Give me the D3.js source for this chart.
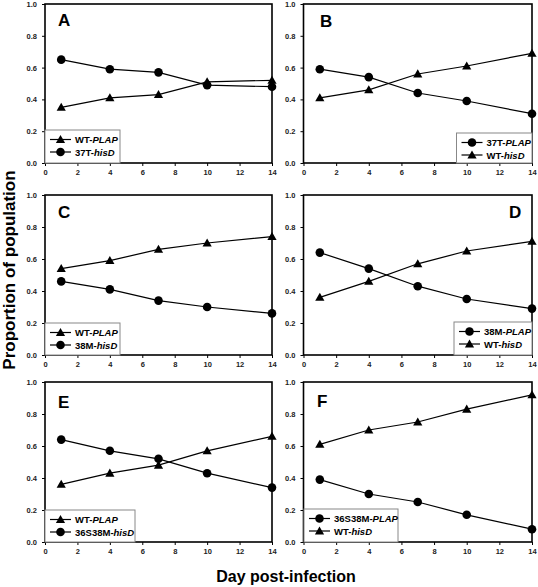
<!DOCTYPE html>
<html><head><meta charset="utf-8">
<script src="https://cdn.jsdelivr.net/npm/d3@7"></script>
<style>body{margin:0;background:#fff}svg{display:block}</style>
</head><body>
<script>
const days = [1, 4, 7, 10, 14];
const xTicks = [0, 2, 4, 6, 8, 10, 12, 14];
const yTicks = [0, 0.2, 0.4, 0.6, 0.8, 1.0];
const panelLetters = ["A", "B", "C", "D", "E", "F"];

const aWT_PLAP = [0.35, 0.41, 0.43, 0.51, 0.52];
const a37T_hisD = [0.65, 0.59, 0.57, 0.49, 0.48];
const b37T_PLAP = [0.59, 0.54, 0.44, 0.39, 0.31];
const bWT_hisD = [0.41, 0.46, 0.56, 0.61, 0.69];
const cWT_PLAP = [0.54, 0.59, 0.66, 0.70, 0.74];
const c38M_hisD = [0.46, 0.41, 0.34, 0.30, 0.26];
const d38M_PLAP = [0.64, 0.54, 0.43, 0.35, 0.29];
const dWT_hisD = [0.36, 0.46, 0.57, 0.65, 0.71];
const eWT_PLAP = [0.36, 0.43, 0.48, 0.57, 0.66];
const e36S38M_hisD = [0.64, 0.57, 0.52, 0.43, 0.34];
const f36S38M_PLAP = [0.39, 0.30, 0.25, 0.17, 0.08];
const fWT_hisD = [0.61, 0.70, 0.75, 0.83, 0.92];

// legend entries: [prefix, italic suffix, marker, values]
const panelSeries = [
  [["WT-", "PLAP", "tri", aWT_PLAP], ["37T-", "hisD", "circ", a37T_hisD]],
  [["37T-", "PLAP", "circ", b37T_PLAP], ["WT-", "hisD", "tri", bWT_hisD]],
  [["WT-", "PLAP", "tri", cWT_PLAP], ["38M-", "hisD", "circ", c38M_hisD]],
  [["38M-", "PLAP", "circ", d38M_PLAP], ["WT-", "hisD", "tri", dWT_hisD]],
  [["WT-", "PLAP", "tri", eWT_PLAP], ["36S38M-", "hisD", "circ", e36S38M_hisD]],
  [["36S38M-", "PLAP", "circ", f36S38M_PLAP], ["WT-", "hisD", "tri", fWT_hisD]]
];

// layout (pixels)
const cols = [[45, 272], [303.5, 532]];
const rows = [[4, 163], [195, 355], [382, 542]];
const letterPos = [[58, 26], [320, 27], [58, 218], [509, 218], [58, 408], [317, 407]];
// legend boxes: x0, y0 (absolute), width
const legendBox = [[45, 130, 75], [456.5, 133, 75.5], [45, 323, 75], [454, 322, 78], [45, 510, 90], [304, 509, 94]];

const W = 538, H = 587;
const svg = d3.select("body").append("svg").attr("width", W).attr("height", H)
  .style("font-family", "Arial, 'Liberation Sans', sans-serif");

function marker(g, type, cx, cy) {
  if (type === "circ") {
    g.append("circle").attr("cx", cx).attr("cy", cy).attr("r", 4.3).attr("fill", "#000");
  } else {
    const s = 4.6;
    g.append("path").attr("d", `M${cx},${cy - s}L${cx + s},${cy + s * 0.75}L${cx - s},${cy + s * 0.75}Z`).attr("fill", "#000");
  }
}

panelSeries.forEach((series, i) => {
  const c = cols[i % 2], r = rows[Math.floor(i / 2)];
  const x = d3.scaleLinear().domain([0, 14]).range(c);
  const y = d3.scaleLinear().domain([0, 1]).range([r[1], r[0]]);
  const g = svg.append("g");

  g.append("rect").attr("x", c[0]).attr("y", r[0]).attr("width", c[1] - c[0]).attr("height", r[1] - r[0])
    .attr("fill", "none").attr("stroke", "#000").attr("stroke-width", 1.6);

  const ax = g.append("g").attr("transform", `translate(0,${r[1]})`)
    .call(d3.axisBottom(x).tickValues(xTicks).tickSize(3).tickPadding(4).tickFormat(d3.format("d")));
  const ay = g.append("g").attr("transform", `translate(${c[0]},0)`)
    .call(d3.axisLeft(y).tickValues(yTicks).tickSize(3).tickPadding(5).tickFormat(d3.format(".1f")));
  [ax, ay].forEach(a => {
    a.select(".domain").remove();
    a.selectAll("line").attr("stroke", "#000");
    a.selectAll("text").attr("font-size", 7.5).attr("font-weight", "bold").attr("fill", "#222");
  });

  const lb = legendBox[i];
  g.append("rect").attr("x", lb[0]).attr("y", lb[1]).attr("width", lb[2]).attr("height", r[1] - lb[1])
    .attr("fill", "#fff").attr("stroke", "#888").attr("stroke-width", 1);

  const line = d3.line().x((d, k) => x(days[k])).y(d => y(d));
  series.forEach((s, j) => {
    g.append("path").datum(s[3]).attr("d", line).attr("fill", "none").attr("stroke", "#000").attr("stroke-width", 1.2);
    s[3].forEach((v, k) => marker(g, s[2], x(days[k]), y(v)));

    const ly = lb[1] + 9.5 + j * 12.5;
    const lx = lb[0] + 5;
    g.append("line").attr("x1", lx).attr("x2", lx + 21).attr("y1", ly).attr("y2", ly).attr("stroke", "#000").attr("stroke-width", 1.2);
    marker(g, s[2], lx + 10.5, ly);
    const t = g.append("text").attr("x", lx + 25).attr("y", ly + 3.5).attr("font-size", 9.5).attr("font-weight", "bold");
    t.append("tspan").text(s[0]);
    t.append("tspan").attr("font-style", "italic").text(s[1]);
  });

  g.append("text").attr("x", letterPos[i][0]).attr("y", letterPos[i][1]).attr("font-size", 17).attr("font-weight", "bold").text(panelLetters[i]);
});

svg.append("text").attr("transform", `translate(15,270) rotate(-90)`).attr("text-anchor", "middle")
  .attr("font-size", 17).attr("font-weight", "bold").text("Proportion of population");
svg.append("text").attr("x", 286).attr("y", 582).attr("text-anchor", "middle")
  .attr("font-size", 16).attr("font-weight", "bold").text("Day post-infection");
</script>
</body></html>
